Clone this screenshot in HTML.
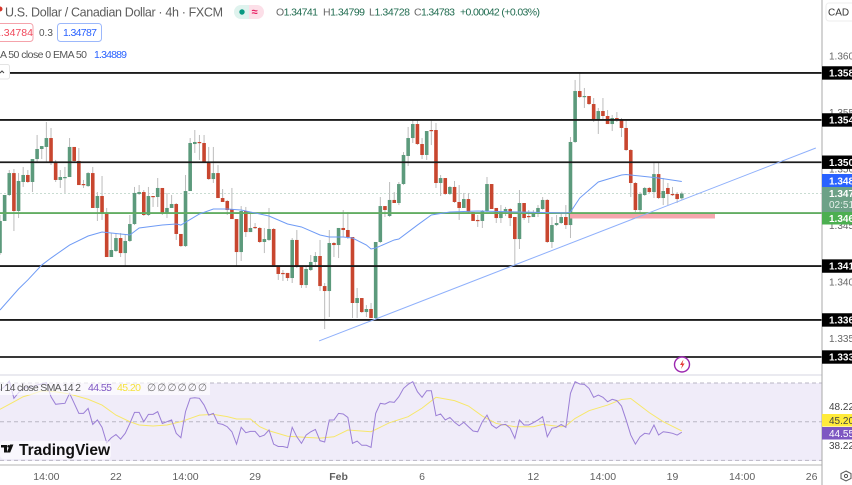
<!DOCTYPE html>
<html lang="en">
<head>
<meta charset="utf-8">
<title>USD/CAD 4h chart</title>
<style>
html,body{margin:0;padding:0;background:#fff;}
body{width:852px;height:485px;overflow:hidden;}
svg{display:block;font-family:"Liberation Sans",sans-serif;}
</style>
</head>
<body>
<svg id="chart" xmlns="http://www.w3.org/2000/svg" width="852" height="485" viewBox="0 0 852 485">
  <rect x="0" y="0" width="852" height="485" fill="#ffffff"/>
  <rect x="0" y="383" width="822" height="78" fill="#f0ecf9"/>
  <g id="rsi-guides"></g>
  <g id="candles"></g>
  <g id="levels"></g>
  <rect x="570" y="213" width="145" height="5.5" fill="#f5a6ac"/>
  <g id="overlays"></g>
  <g id="rsi-lines"></g>
  <line x1="0" y1="375" x2="852" y2="375" stroke="#d4d6e2" stroke-width="1"/>
  <line x1="0" y1="465" x2="852" y2="465" stroke="#b4b4b4" stroke-width="1"/>
  <rect x="822" y="0" width="30" height="485" fill="#ffffff"/>
  <line x1="822" y1="0" x2="822" y2="485" stroke="#a8a8a8" stroke-width="1"/>
  <g id="price-axis"></g>
  <g id="time-axis"></g>

  <!-- price tags -->
  <rect x="822" y="174" width="30" height="13" fill="#2962ff"/>
  <text x="829" y="184.5" font-size="10" font-weight="bold" fill="#ffffff">1.3488</text>
  <rect x="822" y="187" width="30" height="25" fill="#6da187"/>
  <text x="829" y="197" font-size="10" font-weight="bold" fill="#ffffff">1.3478</text>
  <text x="829" y="208" font-size="10" fill="#e6f0ea">02:51:</text>
  <rect x="822" y="212" width="30" height="12.5" fill="#4caf50"/>
  <text x="829" y="222" font-size="10" font-weight="bold" fill="#ffffff">1.3460</text>

  <!-- rsi axis tags -->
  <rect x="823" y="400" width="29" height="54" fill="#ffffff"/>
  <text x="829" y="410" font-size="10" fill="#444">48.22</text>
  <rect x="822" y="414" width="30" height="12.5" fill="#ffeb3b"/>
  <text x="829" y="424" font-size="10" fill="#444">45.20</text>
  <rect x="822" y="427" width="30" height="12.5" fill="#7e57c2"/>
  <text x="829" y="437" font-size="10" fill="#ffffff">44.55</text>
  <text x="829" y="449" font-size="10" fill="#444">38.22</text>

  <!-- currency + settings -->
  <rect x="826" y="3" width="30" height="18" rx="3" fill="#ffffff" stroke="#eeeeee"/>
  <text x="828" y="15.5" font-size="10" fill="#333">CAD</text>
  <g>
    <polygon points="846,471 851,473.5 851,478.5 846,481 841,478.5 841,473.5" fill="none" stroke="#555" stroke-width="1"/>
    <circle cx="846" cy="476" r="1.6" fill="none" stroke="#555" stroke-width="1"/>
  </g>

  <!-- header -->
  <circle cx="0" cy="9" r="2.5" fill="#d8382c"/>
  <text x="5" y="16.5" font-size="12.5" fill="#5c5c5c" textLength="218" lengthAdjust="spacing">U.S. Dollar / Canadian Dollar · 4h · FXCM</text>
  <g>
    <path d="M241,5h8v14h-8a7,7 0 0 1 0,-14z" fill="#dff3ee"/>
    <path d="M249,5h8a7,7 0 0 1 0,14h-8z" fill="#fcdfe8"/>
    <circle cx="242" cy="12" r="2.7" fill="#089981"/>
    <text x="251.5" y="15.5" font-size="11" font-weight="bold" fill="#e91e63">≈</text>
  </g>
  <g font-size="10.5" fill="#1f6b4f">
    <text x="276" y="15.5" textLength="42" lengthAdjust="spacing"><tspan fill="#666">O</tspan>1.34741</text>
    <text x="323" y="15.5" textLength="42" lengthAdjust="spacing"><tspan fill="#666">H</tspan>1.34799</text>
    <text x="369" y="15.5" textLength="41" lengthAdjust="spacing"><tspan fill="#666">L</tspan>1.34728</text>
    <text x="414" y="15.5" textLength="41" lengthAdjust="spacing"><tspan fill="#666">C</tspan>1.34783</text>
    <text x="460" y="15.5" textLength="80" lengthAdjust="spacing">+0.00042 (+0.03%)</text>
  </g>
  <rect x="-6" y="23.5" width="39" height="18" rx="3" fill="#ffffff" stroke="#f5a3ab"/>
  <text x="-5" y="36" font-size="10.5" fill="#f0475a">1.34784</text>
  <text x="39" y="36" font-size="10" fill="#555">0.3</text>
  <rect x="57.5" y="23.5" width="44" height="18" rx="3" fill="#ffffff" stroke="#9cb8fb"/>
  <text x="63" y="36" font-size="10.5" fill="#2962ff" textLength="34" lengthAdjust="spacing">1.34787</text>
  <text x="0" y="58" font-size="10.5" fill="#555" textLength="87" lengthAdjust="spacing">A 50 close 0 EMA 50</text>
  <text x="94" y="58" font-size="10.5" fill="#2962ff" textLength="33" lengthAdjust="spacing">1.34889</text>
  <rect x="-6" y="64.5" width="15.5" height="14.5" rx="2" fill="#ffffff" stroke="#e4e4e4"/>
  <path d="M0,73l2,-2l2,2" fill="none" stroke="#444" stroke-width="1"/>

  <!-- rsi legend -->
  <rect x="0" y="380" width="210" height="15" fill="#ffffff" fill-opacity="0.65"/>
  <text x="0" y="391" font-size="10.5" fill="#555" textLength="81" lengthAdjust="spacing">I 14 close SMA 14 2</text>
  <text x="88" y="391" font-size="10.5" fill="#7e57c2" textLength="24" lengthAdjust="spacing">44.55</text>
  <text x="117" y="391" font-size="10.5" fill="#f5e23c" textLength="24" lengthAdjust="spacing">45.20</text>
  <text x="147" y="391" font-size="10.5" fill="#777" textLength="60" lengthAdjust="spacing">∅ ∅ ∅ ∅ ∅ ∅</text>

  <!-- logo -->
  <g>
    <rect x="0" y="441" width="111" height="18" rx="4" fill="#ffffff" fill-opacity="0.6"/>
    <path d="M1,445h6v2.5h-0v5h-3v-5h-3z" fill="#111"/>
    <circle cx="8.6" cy="446.3" r="1.3" fill="#111"/>
    <path d="M10,444.5h3.4l-3.2,8h-3.4z" fill="#111"/>
    <text x="19" y="455" font-size="15.5" font-weight="bold" fill="#111" textLength="91" lengthAdjust="spacing">TradingView</text>
  </g>

  <!-- alert badge -->
  <g>
    <circle cx="682" cy="364.5" r="7.5" fill="#ffffff" stroke="#9c27b0" stroke-width="1.4"/>
    <path d="M683.5,359.5l-3.5,5.5h2.2l-1.2,4l3.6,-5.5h-2.2z" fill="#e53935"/>
  </g>
</svg>

<script>
// ---- Chart data ----
const opens = [1.34256,1.34540,1.34770,1.34964,1.34628,1.34885,1.34947,1.34885,1.35088,1.35177,
1.35195,1.35274,1.35053,1.34903,1.34920,1.34929,1.35195,1.35071,1.34867,1.34849,
1.34964,1.34655,1.34761,1.34610,1.34221,1.34274,1.34389,1.34256,1.34363,1.34513,
1.34779,1.34796,1.34593,1.34761,1.34752,1.34832,1.34602,1.34655,1.34690,1.34425,
1.34318,1.34805,1.35221,1.35239,1.35230,1.35062,1.34911,1.34964,1.34743,1.34717,
1.34646,1.34557,1.34265,1.34628,1.34442,1.34487,1.34478,1.34354,1.34372,1.34469,
1.34141,1.34080,1.34080,1.34035,1.34372,1.34133,1.33973,1.34106,1.34177,1.34230,
1.33964,1.33920,1.34345,1.34327,1.34478,1.34460,1.34398,1.33814,1.33858,1.33734,
1.33761,1.33681,1.34354,1.34672,1.34584,1.34726,1.34699,1.34867,1.35115,1.35274,
1.35398,1.35221,1.35124,1.35345,1.35345,1.34876,1.34920,1.34779,1.34841,1.34708,
1.34655,1.34734,1.34619,1.34549,1.34540,1.34628,1.34867,1.34655,1.34566,1.34619,
1.34646,1.34575,1.34380,1.34699,1.34584,1.34575,1.34610,1.34646,1.34726,1.34354,
1.34504,1.34522,1.34575,1.34504,1.35239,1.35690,1.35637,1.35646,1.35575,1.35434,
1.35513,1.35469,1.35398,1.35451,1.35442,1.35363,1.35168,1.34876,1.34637,1.34770,
1.34832,1.34796,1.34955,1.34743,1.34832,1.34779,1.34779,1.34741];
const highs = [1.34593,1.34770,1.34991,1.35000,1.34964,1.35018,1.34991,1.35088,1.35301,1.35203,
1.35416,1.35363,1.35080,1.34991,1.35018,1.35274,1.35195,1.35186,1.34903,1.34973,
1.35018,1.34796,1.34938,1.34655,1.34433,1.34433,1.34433,1.34416,1.34593,1.34841,
1.34858,1.34814,1.34841,1.34761,1.34920,1.34832,1.34788,1.34770,1.34699,1.34425,
1.34947,1.35274,1.35345,1.35301,1.35301,1.35195,1.35195,1.35035,1.34823,1.34726,
1.34832,1.34557,1.34672,1.34664,1.34602,1.34522,1.34487,1.34478,1.34655,1.34478,
1.34141,1.34106,1.34080,1.34389,1.34460,1.34141,1.34133,1.34239,1.34265,1.34372,
1.33991,1.34460,1.34354,1.34478,1.34637,1.34619,1.34398,1.33947,1.33858,1.33796,
1.33814,1.34354,1.34752,1.34672,1.34885,1.34796,1.34885,1.35150,1.35372,1.35434,
1.35434,1.35274,1.35336,1.35434,1.35407,1.34947,1.34920,1.34849,1.34894,1.34858,
1.34788,1.34788,1.34619,1.34593,1.34637,1.34929,1.34867,1.34655,1.34681,1.34664,
1.34655,1.34575,1.34814,1.34699,1.34637,1.34637,1.34681,1.34752,1.34734,1.34575,
1.34593,1.34602,1.34681,1.35283,1.35788,1.35858,1.35717,1.35646,1.35628,1.35540,
1.35628,1.35522,1.35478,1.35504,1.35451,1.35425,1.35177,1.34885,1.34796,1.34841,
1.34841,1.35062,1.35062,1.34920,1.34876,1.34841,1.34796,1.34799];
const lows = [1.34239,1.34540,1.34761,1.34451,1.34566,1.34841,1.34876,1.34796,1.35062,1.35088,
1.35053,1.35035,1.34885,1.34832,1.34788,1.34929,1.35053,1.34858,1.34832,1.34841,
1.34655,1.34540,1.34549,1.34221,1.34221,1.34265,1.34221,1.34141,1.34354,1.34504,
1.34770,1.34584,1.34584,1.34664,1.34664,1.34593,1.34566,1.34655,1.34372,1.34310,
1.34310,1.34805,1.35142,1.35080,1.35053,1.34903,1.34876,1.34743,1.34708,1.34593,
1.34557,1.34141,1.34186,1.34398,1.34442,1.34469,1.34345,1.34256,1.34363,1.34133,
1.34018,1.34009,1.34009,1.33991,1.34124,1.33947,1.33947,1.34097,1.34141,1.33920,
1.33584,1.33690,1.34221,1.34212,1.34398,1.34380,1.33681,1.33681,1.33726,1.33690,
1.33681,1.33673,1.34345,1.34575,1.34575,1.34699,1.34681,1.34858,1.35026,1.35230,
1.35212,1.35088,1.35080,1.35212,1.34832,1.34761,1.34770,1.34770,1.34699,1.34549,
1.34655,1.34610,1.34540,1.34487,1.34478,1.34619,1.34646,1.34522,1.34522,1.34584,
1.34495,1.34150,1.34292,1.34549,1.34522,1.34575,1.34575,1.34637,1.34345,1.34301,
1.34495,1.34513,1.34469,1.34389,1.35230,1.35628,1.35540,1.35566,1.35416,1.35310,
1.35434,1.35398,1.35336,1.35416,1.35283,1.35159,1.34752,1.34619,1.34610,1.34761,
1.34788,1.34743,1.34734,1.34681,1.34681,1.34761,1.34699,1.34728];
const closes = [1.34540,1.34770,1.34964,1.34628,1.34894,1.34947,1.34885,1.35088,1.35177,1.35203,
1.35274,1.35053,1.34903,1.34929,1.34929,1.35195,1.35071,1.34858,1.34858,1.34964,
1.34655,1.34761,1.34610,1.34221,1.34283,1.34389,1.34256,1.34363,1.34513,1.34788,
1.34796,1.34593,1.34761,1.34752,1.34832,1.34602,1.34655,1.34690,1.34425,1.34318,
1.34805,1.35230,1.35239,1.35230,1.35062,1.34911,1.34964,1.34743,1.34708,1.34637,
1.34557,1.34265,1.34628,1.34442,1.34478,1.34478,1.34354,1.34380,1.34469,1.34133,
1.34071,1.34071,1.34035,1.34372,1.34133,1.33973,1.34115,1.34177,1.34230,1.33964,
1.33920,1.34345,1.34327,1.34478,1.34460,1.34398,1.33814,1.33858,1.33734,1.33761,
1.33681,1.34354,1.34672,1.34637,1.34726,1.34699,1.34867,1.35124,1.35274,1.35398,
1.35221,1.35124,1.35336,1.35336,1.34876,1.34920,1.34779,1.34841,1.34708,1.34655,
1.34734,1.34619,1.34540,1.34540,1.34628,1.34867,1.34646,1.34566,1.34619,1.34646,
1.34566,1.34380,1.34699,1.34566,1.34575,1.34610,1.34655,1.34726,1.34354,1.34504,
1.34522,1.34575,1.34504,1.35239,1.35690,1.35637,1.35646,1.35575,1.35434,1.35513,
1.35469,1.35398,1.35451,1.35442,1.35363,1.35168,1.34876,1.34637,1.34779,1.34832,
1.34796,1.34955,1.34743,1.34805,1.34779,1.34770,1.34734,1.34783];

const emaBars = [0,4,6,9,11,15,19,22,26,28,30,35,38,39,43,46,49,52,58,62,65,69,71,74,76,79,80,81,85,86,90,93,97,103,112,122,123,125,129,134,135,138,142,147];
const emaValues = [1.33752,1.33938,1.34018,1.34150,1.34212,1.34327,1.34407,1.34442,1.34425,1.34416,1.34478,1.34504,1.34513,1.34504,1.34602,1.34646,1.34646,1.34637,1.34584,1.34513,1.34487,1.34416,1.34398,1.34398,1.34389,1.34327,1.34292,1.34301,1.34372,1.34380,1.34504,1.34593,1.34619,1.34628,1.34619,1.34610,1.34619,1.34743,1.34885,1.34947,1.34951,1.34938,1.34920,1.34889];

const rsiValues = [66.4,68.1,71.0,62.1,65.0,67.2,67.8,68.1,69.0,69.5,
70.2,62.9,59.0,59.3,59.5,64.7,59.5,54.3,54.3,56.9,
48.6,50.9,47.1,39.1,41.7,43.4,41.0,44.0,49.1,54.8,
54.8,50.0,53.8,53.8,55.2,49.1,50.0,50.9,44.0,41.7,
55.2,62.1,62.4,62.1,58.6,53.4,54.3,49.1,48.6,47.4,
44.8,38.4,47.1,44.3,45.0,45.0,42.2,43.1,45.7,38.4,
37.2,37.2,36.6,47.1,42.2,38.8,43.1,44.8,46.0,40.2,
39.5,50.9,50.9,54.3,54.0,52.2,38.8,40.0,37.8,37.8,
36.7,54.3,59.5,59.1,60.3,60.0,62.9,67.2,69.3,70.7,
65.5,62.6,66.0,66.0,53.1,54.0,50.9,52.2,49.7,47.9,
49.7,47.4,45.2,44.8,50.0,53.4,48.3,46.6,48.3,48.6,
46.6,41.4,50.9,48.3,48.3,49.5,50.9,52.6,42.2,46.6,
47.1,48.6,47.1,64.7,70.7,69.5,69.3,67.2,62.6,63.8,
62.6,60.3,61.6,60.9,58.1,50.9,43.1,38.4,42.2,44.0,
43.6,48.3,43.1,44.8,44.5,44.0,43.1,44.55];

const smaBars = [0,3,5,7,9,12,15,19,22,25,28,30,33,36,39,41,43,46,49,51,54,56,58,62,66,69,72,75,80,84,88,91,94,98,101,104,107,111,115,117,121,122,124,127,131,134,136,140,143,147];
const smaValues = [56.4,60.3,62.9,64.3,66.0,65.5,64.3,61.6,58.6,53.4,50.0,48.3,47.8,48.3,50.0,51.7,53.4,53.8,52.6,51.4,51.4,47.4,45.3,42.5,41.9,41.5,42.2,45.7,44.8,49.5,52.6,57.0,62.6,60.9,58.1,52.9,49.1,47.4,47.4,48.6,47.4,47.8,51.7,55.7,58.6,61.5,62.0,54.7,50.0,45.2];

const levelPrices = [1.35850,1.35434,1.35060,1.34141,1.33664,1.33336];
const levelLabels = ["1.3585","1.3543","1.3506","1.3414","1.3367","1.3333"];
const supportPrice = 1.34610;
const lastPrice = 1.34783;
const trendBars = [68.8,175.9];
const trendPrices = [1.33478,1.35186];

const priceTicks = [1.3600,1.3550,1.3500,1.3450,1.3400,1.3350];
const rsiGuides = [70,50,30];
const timeBars = [10,25,40,55,73,91,115,130,145,160,175];
const timeLabels = ["14:00","22","14:00","29","Feb","6","12","14:00","19","14:00","26"];

// ---- Axis functions ----
function xBar(i){ return i*4.638; }
function yPrice(p){ return 56+(1.36-p)/0.0000885; }
function yRsi(v){ return 421.7+(50-v)*1.935; }

const NS = "http://www.w3.org/2000/svg";
function el(tag, attrs, parent){
  const n = document.createElementNS(NS, tag);
  for (const k in attrs) n.setAttribute(k, attrs[k]);
  parent.appendChild(n);
  return n;
}
function pathFrom(xs, ys){
  return xs.map((x,i)=>(i?"L":"M")+x.toFixed(2)+","+ys[i].toFixed(2)).join("");
}

// RSI guides
const guideGroup = document.getElementById("rsi-guides");
rsiGuides.forEach(v=>{
  const g = el("line",{x1:0,x2:822,y1:yRsi(v),y2:yRsi(v),stroke:"#b9b6c4","stroke-width":1,"stroke-dasharray":"4 3"},guideGroup);
  
  
});

// Last price dotted line
const levelsGroup = document.getElementById("levels");
const lastLine = el("line",{x1:0,x2:822,y1:yPrice(lastPrice),y2:yPrice(lastPrice),stroke:"#c9dcd2","stroke-width":1,"stroke-dasharray":"2 2"},document.getElementById("candles"));



// Candles
const candleGroup = document.getElementById("candles");
opens.forEach((o,i)=>{
  const c = closes[i], x = xBar(i);
  const up = c>=o;
  const wick = el("line",{x1:x,x2:x,y1:yPrice(highs[i]),y2:yPrice(lows[i]),stroke:"#bcbcbc","stroke-width":1},candleGroup);
  
  
  const top = yPrice(Math.max(o,c));
  const h = Math.max(1.2,yPrice(Math.min(o,c))-top);
  const body = el("rect",{x:x-1.8,y:top,width:3.6,height:h,fill:up?"#5c9a7c":"#c8462f"},candleGroup);
  
  
});

// Horizontal levels
levelPrices.forEach(p=>{
  const l = el("line",{x1:0,x2:822,y1:yPrice(p),y2:yPrice(p),stroke:"#1c1c1c","stroke-width":1.8},levelsGroup);
  
  
});

// EMA, support line, trendline
const overlayGroup = document.getElementById("overlays");
const supportLine = el("line",{x1:0,x2:822,y1:yPrice(supportPrice),y2:yPrice(supportPrice),stroke:"#62ad62","stroke-width":1.8},overlayGroup);


const emaPath = el("path",{d:pathFrom(emaBars.map(xBar),emaValues.map(yPrice)),fill:"none",stroke:"#6f9bf5","stroke-width":1},overlayGroup);


const trend = el("path",{d:pathFrom(trendBars.map(xBar),trendPrices.map(yPrice)),fill:"none",stroke:"#8fb0fb","stroke-width":1},overlayGroup);



// RSI lines
const rsiGroup = document.getElementById("rsi-lines");
const smaPath = el("path",{d:pathFrom(smaBars.map(xBar),smaValues.map(yRsi)),fill:"none",stroke:"#f7e76a","stroke-width":1},rsiGroup);


const rsiPath = el("path",{d:pathFrom(rsiValues.map((v,i)=>xBar(i)),rsiValues.map(yRsi)),fill:"none",stroke:"#9b7fd6","stroke-width":1},rsiGroup);



// Price axis
const priceGroup = document.getElementById("price-axis");
priceTicks.forEach(p=>{
  const t = el("text",{x:829,y:yPrice(p)+3.5,"font-size":10,fill:"#666"},priceGroup);
  t.textContent = p.toFixed(4);
  
  
});
levelPrices.forEach((p,i)=>{
  const y = yPrice(p);
  const r = el("rect",{x:822,y:y-6.7,width:30,height:13.4,fill:"#000000"},priceGroup);
  
  
  const t = el("text",{x:829,y:y+3.6,"font-size":10,"font-weight":"bold",fill:"#ffffff"},priceGroup);
  t.textContent = levelLabels[i];
  
  
});

// Time axis
const timeGroup = document.getElementById("time-axis");
timeBars.forEach((b,i)=>{
  const t = el("text",{x:xBar(b),y:480,"font-size":10.5,"text-anchor":"middle",fill:"#5f5f5f"},timeGroup);
  t.textContent = timeLabels[i];
  if (timeLabels[i]==="Feb") t.setAttribute("font-weight","bold");
  
  
});
</script>
</body>
</html>
